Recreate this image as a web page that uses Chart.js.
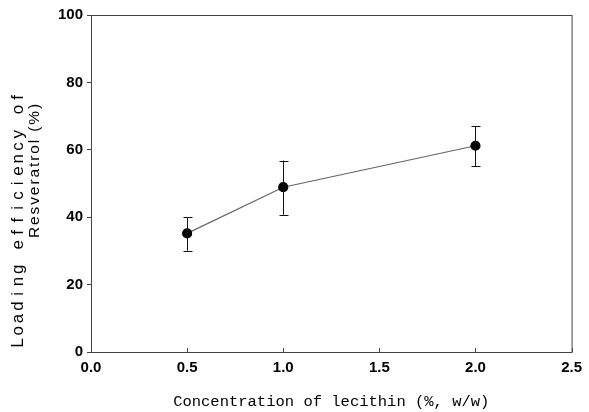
<!DOCTYPE html>
<html>
<head>
<meta charset="utf-8">
<script src="https://cdn.jsdelivr.net/npm/chart.js@4.4.0/dist/chart.umd.min.js"></script>
<style>
  html, body { margin: 0; padding: 0; background: #fff; }
  #wrap { width: 589px; height: 412px; }
</style>
</head>
<body>
<div id="wrap"><canvas id="chart" width="589" height="412"></canvas></div>
<script>
// Datos
const lecithin = [0.5, 1.0, 2.0];
const loading = [35.2, 48.9, 61.2];
const errLow = [30.0, 40.7, 55.2];
const errHigh = [40.0, 56.8, 67.0];

// Texto vertical: letras estrechas con celda mínima, ajustado al ancho
function drawSpaced(ctx, text, cx, cy, width, size, minCell) {
    ctx.save();
    ctx.fillStyle = '#000';
    ctx.font = size + 'px "Liberation Sans", Arial, sans-serif';
    const adv = [...text].map(ch => Math.max(ctx.measureText(ch).width, minCell));
    const base = adv.reduce((s, v) => s + v, 0);
    const extra = Math.max(0.5, (width - base) / text.length);
    const total = base + extra * text.length;
    ctx.textAlign = 'left';
    ctx.textBaseline = 'middle';
    ctx.translate(cx, cy);
    ctx.rotate(-Math.PI / 2);
    let pos = -total / 2;
    [...text].forEach((ch, i) => {
        const w = ctx.measureText(ch).width;
        ctx.fillText(ch, pos + (adv[i] - w) / 2, 0);
        pos += adv[i] + extra;
    });
    ctx.restore();
}

// Barras de error y marco del gráfico
const framePlugin = {
    id: 'frame',
    afterDatasetsDraw(chart) {
        const { ctx, chartArea: a, scales: { x, y } } = chart;
        ctx.save();
        // marco completo
        ctx.strokeStyle = '#444';
        ctx.lineWidth = 1;
        ctx.strokeRect(a.left + 0.5, a.top + 0.5, a.right - a.left, a.bottom - a.top);
        // ticks del eje x hacia adentro
        x.ticks.forEach(t => {
            const px = Math.round(x.getPixelForValue(t.value)) + 0.5;
            ctx.beginPath();
            ctx.moveTo(px, a.bottom);
            ctx.lineTo(px, a.bottom - 4);
            ctx.stroke();
        });
        // barras de error
        ctx.strokeStyle = '#111';
        lecithin.forEach((v, i) => {
            const px = Math.round(x.getPixelForValue(v)) + 0.5;
            const y1 = y.getPixelForValue(errHigh[i]);
            const y2 = y.getPixelForValue(errLow[i]);
            ctx.beginPath();
            ctx.moveTo(px, y1); ctx.lineTo(px, y2);
            ctx.moveTo(px - 4, Math.round(y1) + 0.5); ctx.lineTo(px + 5, Math.round(y1) + 0.5);
            ctx.moveTo(px - 4, Math.round(y2) + 0.5); ctx.lineTo(px + 5, Math.round(y2) + 0.5);
            ctx.stroke();
        });
        ctx.restore();
    },
    afterDraw(chart) {
        const { ctx } = chart;
        drawSpaced(ctx, 'Loading efficiency of', 18, 219, 258, 17, 10);
        drawSpaced(ctx, 'Resveratrol (%)', 35, 170, 136, 15.5, 0);
    }
};

new Chart(document.getElementById('chart'), {
    type: 'line',
    data: {
        datasets: [{
            data: lecithin.map((v, i) => ({ x: v, y: loading[i] })),
            borderColor: '#666',
            borderWidth: 1.2,
            pointBackgroundColor: '#000',
            pointBorderColor: '#000',
            pointRadius: 4.5,
            tension: 0
        }]
    },
    options: {
        responsive: false,
        animation: false,
        layout: { padding: { top: 15, right: 17, left: 0, bottom: 0 } },
        plugins: { legend: { display: false }, tooltip: { enabled: false } },
        scales: {
            x: {
                type: 'linear',
                min: 0,
                max: 2.5,
                afterFit: s => { s.height = 60; },
                grid: { display: true, drawOnChartArea: false, drawTicks: false, color: '#444' },
                border: { color: '#444' },
                ticks: {
                    stepSize: 0.5,
                    padding: 7,
                    color: '#000',
                    font: { family: '"Liberation Sans", Arial, sans-serif', size: 15, weight: 'bold' },
                    callback: v => v.toFixed(1)
                },
                title: {
                    display: true,
                    text: 'Concentration of lecithin (%, w/w)',
                    color: '#000',
                    font: { family: '"Liberation Mono", monospace', size: 15.5 },
                    padding: { top: 0, bottom: 1 }
                }
            },
            y: {
                min: 0,
                max: 100,
                afterFit: s => { s.width = 91; },
                grid: { drawOnChartArea: false, drawTicks: true, tickLength: 4, color: '#444' },
                border: { color: '#444' },
                ticks: {
                    stepSize: 20,
                    padding: 4,
                    color: '#000',
                    font: { family: '"Liberation Sans", Arial, sans-serif', size: 15, weight: 'bold' }
                }
            }
        }
    },
    plugins: [framePlugin]
});
</script>
</body>
</html>
